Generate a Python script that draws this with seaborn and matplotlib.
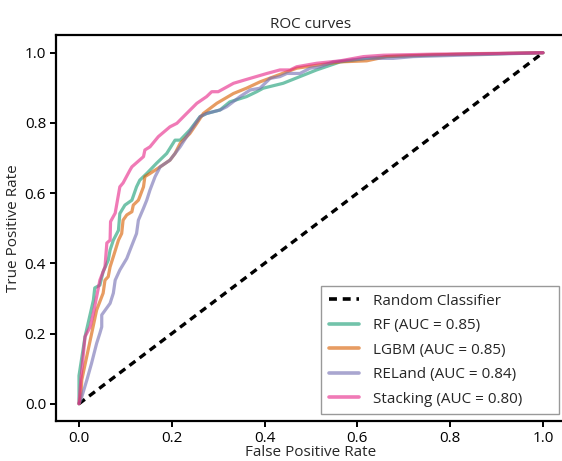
import matplotlib
matplotlib.use("Agg")
import matplotlib.pyplot as plt
import seaborn as sns
import pandas as pd
import numpy as np

sns.set_theme(style="ticks")
plt.rcParams.update({
    'font.family': ['Open Sans', 'DejaVu Sans'],
    'axes.edgecolor': 'black',
    'axes.linewidth': 1.6,
    'xtick.color': 'black',
    'ytick.color': 'black',
    'xtick.major.size': 4,
    'ytick.major.size': 4,
    'xtick.major.width': 1.4,
    'ytick.major.width': 1.4,
})

# ROC points (fpr, tpr)
rf_fpr = [0, 0, 0.013, 0.031, 0.034, 0.045, 0.052, 0.063, 0.067, 0.074, 0.085, 0.088, 0.099,
          0.114, 0.124, 0.131, 0.146, 0.167, 0.189, 0.207, 0.218, 0.239, 0.261, 0.275, 0.304,
          0.325, 0.361, 0.383, 0.397, 0.440, 0.476, 0.512, 0.563, 0.620, 0.663, 0.800, 1.0]
rf_tpr = [0, 0.08, 0.191, 0.295, 0.330, 0.338, 0.376, 0.409, 0.438, 0.466, 0.494, 0.542, 0.566,
          0.580, 0.618, 0.637, 0.656, 0.685, 0.713, 0.751, 0.751, 0.780, 0.818, 0.827, 0.837,
          0.860, 0.875, 0.889, 0.899, 0.913, 0.932, 0.951, 0.974, 0.984, 0.989, 0.995, 1.0]

lgbm_fpr = [0, 0.004, 0.006, 0.038, 0.052, 0.056, 0.063, 0.067, 0.074, 0.085, 0.092, 0.095, 0.103,
            0.114, 0.117, 0.128, 0.131, 0.139, 0.142, 0.153, 0.175, 0.196, 0.207, 0.218, 0.239,
            0.254, 0.268, 0.297, 0.333, 0.361, 0.390, 0.469, 0.563, 0.620, 0.663, 0.763, 1.0]
lgbm_tpr = [0, 0.02, 0.068, 0.267, 0.315, 0.352, 0.362, 0.390, 0.419, 0.466, 0.485, 0.523, 0.538,
            0.547, 0.566, 0.580, 0.590, 0.618, 0.647, 0.656, 0.675, 0.694, 0.713, 0.742, 0.770,
            0.799, 0.827, 0.856, 0.884, 0.899, 0.917, 0.956, 0.974, 0.977, 0.989, 0.994, 1.0]

reland_fpr = [0, 0.004, 0.017, 0.027, 0.038, 0.045, 0.049, 0.049, 0.067, 0.074, 0.078, 0.088, 0.103,
              0.110, 0.124, 0.128, 0.139, 0.146, 0.153, 0.164, 0.175, 0.196, 0.218, 0.232, 0.246,
              0.261, 0.275, 0.304, 0.318, 0.347, 0.369, 0.390, 0.412, 0.433, 0.448, 0.476, 0.498,
              0.519, 0.548, 0.620, 0.677, 0.720, 1.0]
reland_tpr = [0, 0.011, 0.068, 0.115, 0.172, 0.201, 0.219, 0.253, 0.286, 0.315, 0.352, 0.381, 0.414,
              0.438, 0.485, 0.523, 0.557, 0.580, 0.609, 0.647, 0.675, 0.694, 0.732, 0.761, 0.789,
              0.818, 0.827, 0.837, 0.846, 0.875, 0.894, 0.899, 0.927, 0.932, 0.941, 0.941, 0.956,
              0.960, 0.974, 0.984, 0.984, 0.989, 1.0]

stack_fpr = [0, 0.004, 0.013, 0.024, 0.031, 0.045, 0.056, 0.060, 0.067, 0.068, 0.078, 0.088, 0.095,
             0.110, 0.114, 0.139, 0.142, 0.153, 0.171, 0.196, 0.211, 0.232, 0.254, 0.275, 0.286,
             0.300, 0.333, 0.361, 0.405, 0.433, 0.455, 0.469, 0.512, 0.563, 0.613, 0.656, 0.763, 1.0]
stack_tpr = [0, 0.068, 0.191, 0.219, 0.258, 0.352, 0.390, 0.458, 0.466, 0.519, 0.543, 0.618, 0.629,
             0.666, 0.675, 0.704, 0.723, 0.732, 0.761, 0.789, 0.799, 0.827, 0.856, 0.875, 0.889,
             0.889, 0.913, 0.924, 0.941, 0.951, 0.951, 0.960, 0.970, 0.977, 0.989, 0.993, 0.996, 1.0]

models = ["RF", "LGBM", "RELand", "Stacking"]
aucs = [0.85, 0.85, 0.84, 0.80]
fprs = [rf_fpr, lgbm_fpr, reland_fpr, stack_fpr]
tprs = [rf_tpr, lgbm_tpr, reland_tpr, stack_tpr]

frames = []
for name, auc, f, t in zip(models, aucs, fprs, tprs):
    frames.append(pd.DataFrame({"fpr": f, "tpr": t, "model": f"{name} (AUC = {auc:.2f})"}))
df = pd.concat(frames, ignore_index=True)

fig = plt.figure(figsize=(5.62, 4.61), dpi=100)
# right spine falls just outside the canvas, as in the reference
ax = fig.add_axes([55.8 / 562, 39.7 / 461, 510.4 / 562, 386.1 / 461])

ax.plot([0, 1], [0, 1], linestyle="--", color="black", linewidth=2.4,
        label="Random Classifier", dashes=(2.2, 1.6))
sns.lineplot(data=df, x="fpr", y="tpr", hue="model", palette="Dark2",
             estimator=None, sort=False, linewidth=2.3, alpha=0.62, ax=ax)

ax.set_xlim(-0.05, 1.05)
ax.set_ylim(-0.05, 1.05)
ax.set_xticks([0, 0.2, 0.4, 0.6, 0.8, 1.0])
ax.set_yticks([0, 0.2, 0.4, 0.6, 0.8, 1.0])
ax.tick_params(labelsize=11, pad=3)
ax.set_xlabel("False Positive Rate", fontsize=11, labelpad=-1)
ax.set_ylabel("True Positive Rate", fontsize=11, labelpad=3)
ax.set_title("ROC curves", fontsize=11, pad=5)

leg = ax.legend(loc="lower left", fontsize=11, frameon=True, fancybox=False,
                edgecolor="#808080", bbox_to_anchor=(0.52, 0.018, 0.466, 0.3),
                mode="expand", borderaxespad=0, borderpad=0.5,
                labelspacing=0.62, handlelength=2.0, handletextpad=0.9)
leg.get_frame().set_linewidth(1.0)
for line in leg.get_lines():
    line.set_linewidth(2.6)

fig.savefig("out.png", dpi=100)
